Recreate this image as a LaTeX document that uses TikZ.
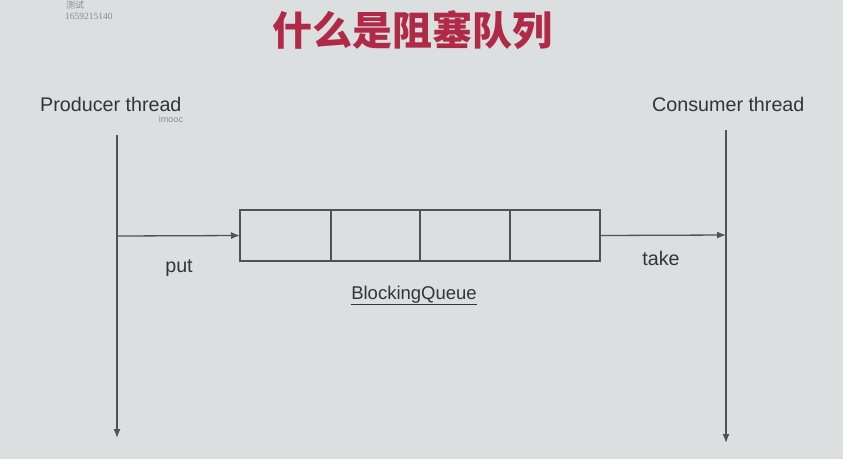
\documentclass[tikz,border=0pt]{standalone}
\usepackage{fontspec}
\setmainfont{Liberation Sans}
\newfontfamily\cjk{Noto Sans CJK SC}
\newfontfamily\wmfont{Liberation Serif}
\usetikzlibrary{arrows.meta}
\definecolor{bgc}{RGB}{219,223,223}
\definecolor{linec}{RGB}{80,83,85}
\definecolor{txtc}{RGB}{50,53,55}
\definecolor{titlec}{RGB}{176,42,72}
\definecolor{wmc}{RGB}{135,140,143}
\tikzset{
  lbl/.style={font=\fontsize{19.7}{23}\selectfont, text=txtc, inner sep=0pt},
  flow/.style={draw=linec, line width=1.3pt, -{Latex[length=9pt,width=7pt]}},
  cell/.style={draw=linec, line width=1.1pt, minimum width=90pt, minimum height=51pt, inner sep=0pt, outer sep=0pt},
}
\begin{document}
\begin{tikzpicture}[x=1pt,y=-1pt]
\fill[bgc] (0,0) rectangle (843,459);
\useasboundingbox (0,0) rectangle (843,459);
% watermark
\node[font=\cjk\fontsize{9}{10}\selectfont, text=wmc, anchor=north west, inner sep=0pt] (wm1) at (66,1) {测试};
\node[font=\wmfont\fontsize{9.5}{10}\selectfont, text=wmc, anchor=west, inner sep=0pt] (wm2) at (65,16) {1659215140};
% title
\node[font=\cjk\bfseries\fontsize{40}{42}\selectfont, text=titlec, inner sep=0pt] (title) at (412,30) {什么是阻塞队列};
% thread labels
\node[lbl, anchor=base west] (prod) at (40,111) {Producer thread};
\node[font=\fontsize{9}{10}\selectfont, text=wmc, inner sep=0pt] (imooc) at (171,119) {imooc};
\node[lbl, anchor=base west] (cons) at (652,111) {Consumer thread};
% thread lines
\coordinate (pt) at (117,135);
\coordinate (pb) at (117,438);
\coordinate (ct) at (726,130);
\coordinate (cb) at (726,443);
\draw[flow] (pt) -- (pb);
\draw[flow] (ct) -- (cb);
% queue cells
\node[cell, minimum width=91pt] (c1) at (285.5,235.5) {};
\node[cell, minimum width=89pt] (c2) at (375.5,235.5) {};
\node[cell, minimum width=90pt] (c3) at (465,235.5) {};
\node[cell, minimum width=90pt] (c4) at (555,235.5) {};
% arrows
\coordinate (pj) at (117,236);
\coordinate (cj) at (726,235);
\draw[flow] (pj) -- (c1.west);
\draw[flow] (c4.east) -- (cj);
% labels
\node[lbl, anchor=base] (put) at (179,272) {put};
\node[lbl, anchor=base] (take) at (661,265) {take};
\node[lbl, font=\fontsize{18.5}{21}\selectfont, anchor=base] (bq) at (414,299) {\underline{BlockingQueue}};
\end{tikzpicture}
\end{document}
